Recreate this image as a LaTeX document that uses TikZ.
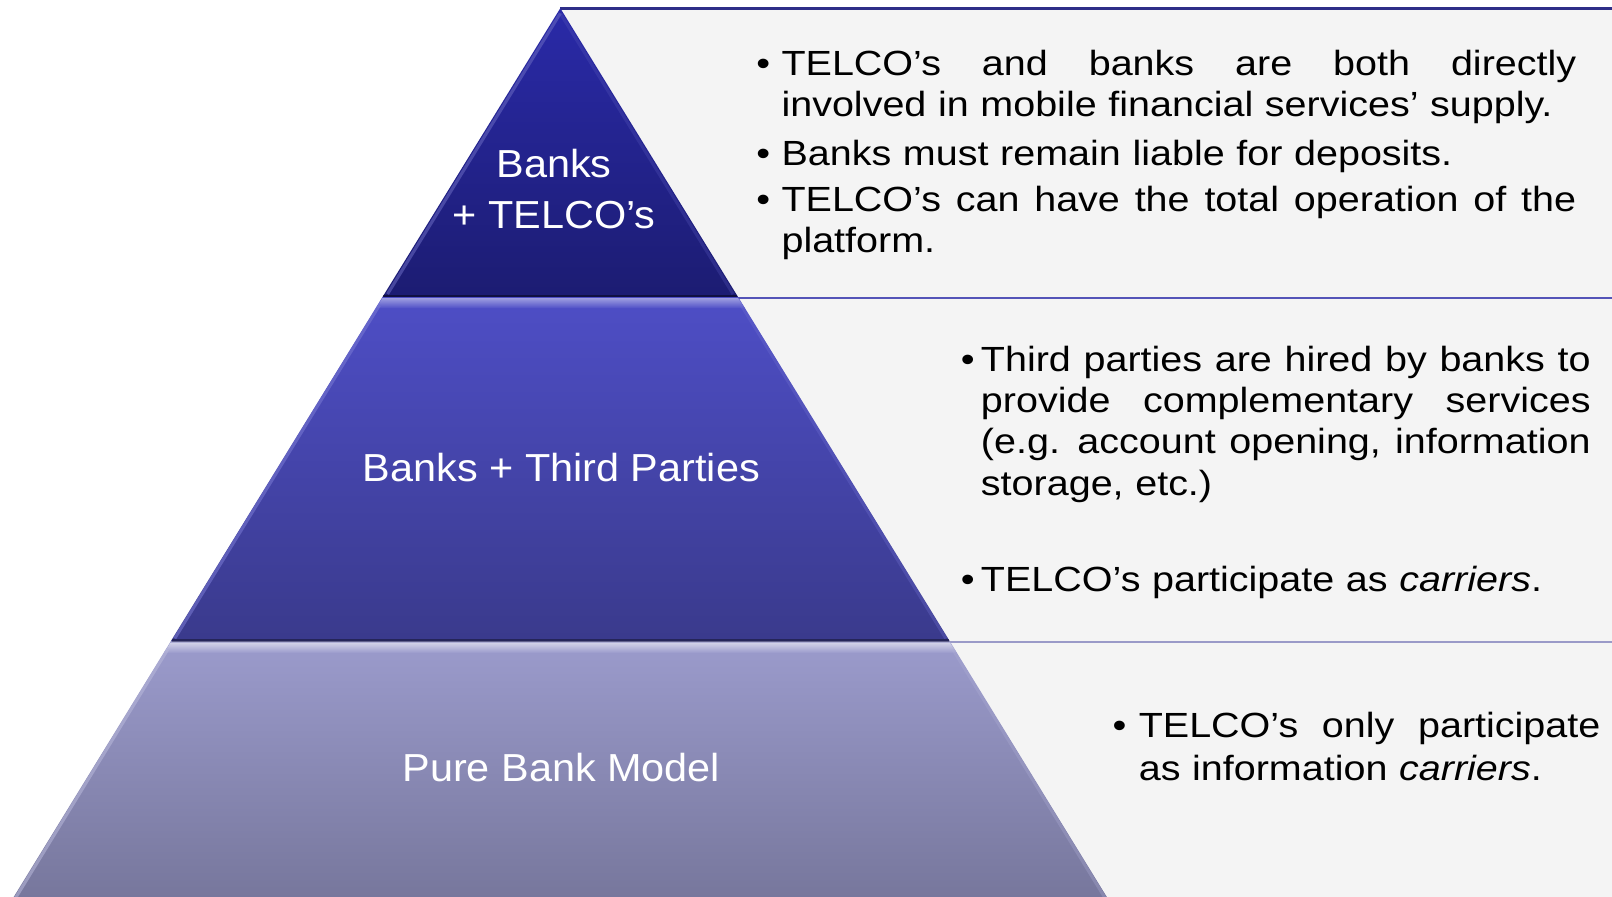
\documentclass[tikz,border=0pt]{standalone}
\usepackage{fontspec}
\setmainfont{Liberation Sans}
\newfontfamily\bodyfont{Liberation Sans}[FakeStretch=1.13]
\newfontfamily\labelfont{Liberation Sans}[FakeStretch=1.06]
\definecolor{panelgray}{HTML}{F4F4F4}
\definecolor{bOneTop}{HTML}{2A2AA8}
\definecolor{bOneBot}{HTML}{1C1C72}
\definecolor{bTwoTop}{HTML}{4E4EC6}
\definecolor{bTwoBot}{HTML}{3A3A8C}
\definecolor{bThrTop}{HTML}{9B9BCC}
\definecolor{bThrBot}{HTML}{76769B}
\definecolor{lineOne}{HTML}{2E2E88}
\definecolor{lineTwo}{HTML}{5454B8}
\definecolor{lineThr}{HTML}{9A9AC8}
\newcommand\bul[1]{\leavevmode\llap{\textbullet\hspace{#1}}}
\newcommand\jline[2]{\leavevmode\hbox to #1{\spaceskip=\fontdimen2\font plus 1fil\relax #2}}
\tikzset{
  bandlabel/.style={text=white, font=\labelfont\fontsize{38}{49}\selectfont, inner sep=0pt, align=center, anchor=base},
  bodytext/.style={text=black, font=\bodyfont\fontsize{34}{40}\selectfont, inner sep=0pt, align=left, anchor=base west},
  panel/.style={fill=panelgray},
  hilite/.style={line width=3pt, opacity=0.55},
  darkedge/.style={line width=2pt, opacity=0.6},
}
\begin{document}
\begin{tikzpicture}[x=1pt,y=-1pt]
\useasboundingbox (0,0) rectangle (1568,872);
\clip (0,0) rectangle (1568,872);
\fill[white] (0,0) rectangle (1568,872);
% right panels
\fill[panel] (545,8) -- (1568,8) -- (1568,289) -- (718,289) -- cycle;
\fill[panel] (718,289) -- (1568,289) -- (1568,624) -- (924,624) -- cycle;
\fill[panel] (924,624) -- (1568,624) -- (1568,880) -- (1082,880) -- cycle;
\draw[lineOne, line width=2.5pt] (545,8) -- (1568,8);
\draw[lineTwo, line width=2pt] (718,289.5) -- (1568,289.5);
\draw[lineThr, line width=2.5pt] (924,624.5) -- (1568,624.5);
% band 1
\shade[top color=bOneTop, bottom color=bOneBot] (545,8) -- (718,289) -- (372,289) -- cycle;
\draw[hilite, color=bOneTop!70!white] (545,13) -- (377,286);
\draw[hilite, color=bOneTop!80!white, opacity=0.3] (545,13) -- (713,286);
\draw[darkedge, color=black!70!bOneBot] (373,288) -- (717,288);
% band 2
\shade[top color=bTwoTop, bottom color=bTwoBot] (372,289) -- (718,289) -- (924,624) -- (166,624) -- cycle;
\shade[top color=white!45!bTwoTop, bottom color=bTwoTop] (372,290) -- (718,290) -- (724.6,300) -- (365.4,300) -- cycle;
\draw[hilite, color=bTwoTop!75!white] (369,297) -- (170,621);
\draw[hilite, color=bTwoTop!80!white, opacity=0.3] (721,297) -- (920,621);
\draw[darkedge, color=black!60!bTwoBot] (167,623) -- (923,623);
% band 3
\shade[top color=bThrTop, bottom color=bThrBot] (166,624) -- (924,624) -- (1081.3,880) -- (8.7,880) -- cycle;
\shade[top color=white!55!bThrTop, bottom color=bThrTop] (166,625) -- (924,625) -- (930.6,635) -- (159.4,635) -- cycle;
\draw[hilite, color=bThrTop!70!white] (163,632) -- (5,890);
\draw[hilite, color=bThrTop!80!white, opacity=0.3] (927,632) -- (1085,890);
% band labels
\node[bandlabel] (labA) at (539,222) {Banks\\+ TELCO’s};
\node[bandlabel] (labB) at (546,468.5) {Banks + Third Parties};
\node[bandlabel] (labC) at (546,760) {Pure Bank Model};
% top panel text
\node[bodytext, text width=773pt] (topA) at (760,73) {\bul{11pt}\jline{773pt}{TELCO’s and banks are both directly}\\involved in mobile financial services’ supply.};
\node[bodytext, text width=773pt] (topB) at (760,161) {\bul{11pt}Banks must remain liable for deposits.};
\node[bodytext, text width=773pt] (topC) at (760,206) {\bul{11pt}\jline{773pt}{TELCO’s can have the total operation of the}\\platform.};
% middle panel text
\node[bodytext, text width=593pt] (midA) at (954,361.5) {\bul{6pt}\jline{593pt}{Third parties are hired by banks to}\\\jline{593pt}{provide complementary services}\\\jline{593pt}{(e.g. account opening, information}\\storage, etc.)};
\node[bodytext, text width=593pt] (midB) at (954,575.5) {\bul{6pt}TELCO’s participate as \textit{carriers}.};
% bottom panel text
\node[bodytext, text width=449pt, font=\bodyfont\fontsize{34}{42}\selectfont] (botA) at (1107.5,717) {\bul{12pt}\jline{449pt}{TELCO’s only participate}\\as information \textit{carriers}.};
\end{tikzpicture}
\end{document}
